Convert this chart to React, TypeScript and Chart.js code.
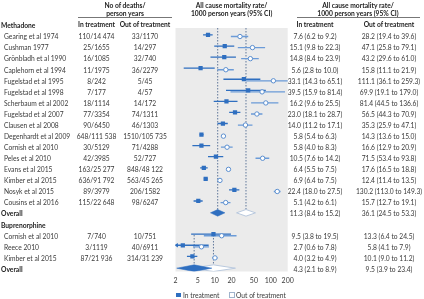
import React, { useEffect, useRef } from "react";
import { Chart, registerables } from "chart.js";
Chart.register(...registerables);

// ---------- data ----------
const methadoneStudies = [
  "Gearing et al 1974", "Cushman 1977", "Grönbladh et al 1990", "Caplehorn et al 1994",
  "Fugelstad et al 1995", "Fugelstad et al 1998", "Scherbaum et al 2002", "Fugelstad et al 2007",
  "Clausen et al 2008", "Degenhardt et al 2009", "Cornish et al 2010", "Peles et al 2010",
  "Evans et al 2015", "Kimber et al 2015", "Nosyk et al 2015", "Cousins et al 2016",
];
const methadoneInDeaths = [
  "110/14 474", "25/1655", "16/1085", "11/1975", "8/242", "7/177", "18/1114", "77/3354",
  "90/6450", "648/111 538", "30/5129", "42/3985", "163/25 277", "636/91 792", "89/3979", "115/22 648",
];
const methadoneOutDeaths = [
  "33/1170", "14/297", "32/740", "36/2279", "5/45", "4/57", "14/172", "74/1311",
  "46/1303", "1510/105 735", "71/4288", "52/727", "848/48 122", "563/45 265", "206/1582", "98/6247",
];
const methadoneInRate = [7.6, 15.1, 14.8, 5.6, 33.1, 39.5, 16.2, 23.0, 14.0, 5.8, 5.8, 10.5, 6.4, 6.9, 22.4, 5.1];
const methadoneInLow = [6.2, 9.8, 8.4, 2.8, 14.3, 15.9, 9.6, 18.1, 11.2, 5.4, 4.0, 7.6, 5.5, 6.4, 18.0, 4.2];
const methadoneInHigh = [9.2, 22.3, 23.9, 10.0, 65.1, 81.4, 25.5, 28.7, 17.1, 6.3, 8.3, 14.2, 7.5, 7.5, 27.5, 6.1];
const methadoneOutRate = [28.2, 47.1, 43.2, 15.8, 111.1, 69.9, 81.4, 56.5, 35.3, 14.3, 16.6, 71.5, 17.6, 12.4, 130.2, 15.7];
const methadoneOutLow = [19.4, 25.8, 29.6, 11.1, 36.1, 19.1, 44.5, 44.3, 25.9, 13.6, 12.9, 53.4, 16.5, 11.4, 113.0, 12.7];
const methadoneOutHigh = [39.6, 79.1, 61.0, 21.9, 259.3, 179.0, 136.6, 70.9, 47.1, 15.0, 20.9, 93.8, 18.8, 13.5, 149.3, 19.1];
const methadoneOverallIn = [11.3, 8.4, 15.2];
const methadoneOverallOut = [36.1, 24.5, 53.3];

const buprenorphineStudies = ["Cornish et al 2010", "Reece 2010", "Kimber et al 2015"];
const buprenorphineInDeaths = ["7/740", "3/1119", "87/21 936"];
const buprenorphineOutDeaths = ["10/751", "40/6911", "314/31 239"];
const buprenorphineInRate = [9.5, 2.7, 4.0];
const buprenorphineInLow = [3.8, 0.6, 3.2];
const buprenorphineInHigh = [19.5, 7.8, 4.9];
const buprenorphineOutRate = [13.3, 5.8, 10.1];
const buprenorphineOutLow = [6.4, 4.1, 9.0];
const buprenorphineOutHigh = [24.5, 7.9, 11.2];
const buprenorphineOverallIn = [4.3, 2.1, 8.9];
const buprenorphineOverallOut = [9.5, 3.9, 23.4];

const xTicks = [2, 5, 10, 20, 50, 100, 200];

// ---------- layout ----------
const W = 424;
const H = 299;
const X_MIN = 2;
const X_MAX = 200;
const Y_MIN = 0.3;
const Y_MAX = 22.3;
const AREA_LEFT = 175.5;
const AREA_RIGHT = 287.7;
const AREA_TOP = 28;
const AREA_BOTTOM = 271.5;
const rowPx = (AREA_BOTTOM - AREA_TOP) / (Y_MAX - Y_MIN);
const rowY = (i: number) => AREA_TOP + (i - Y_MIN) * rowPx;

const FONT = "Lato, 'Open Sans', sans-serif";
const FS = 6.7;
const TEXT = "#3a3a3a";
const BLUE = "#2f6fc0";
const BLUE_LIGHT = "#6b9bd8";
const OPEN_BORDER = "#5b8fd0";

type Row = {
  kind: "group" | "study" | "overall";
  label: string;
  group: number;
  inD?: string;
  outD?: string;
  inR?: number; inL?: number; inH?: number;
  outR?: number; outL?: number; outH?: number;
};

function buildRows(): Row[] {
  const rows: Row[] = [];
  const add = (
    name: string, g: number, studies: string[], inD: string[], outD: string[],
    inR: number[], inL: number[], inH: number[], outR: number[], outL: number[], outH: number[],
    ovIn: number[], ovOut: number[]
  ) => {
    rows.push({ kind: "group", label: name, group: g });
    studies.forEach((s, k) =>
      rows.push({
        kind: "study", label: s, group: g, inD: inD[k], outD: outD[k],
        inR: inR[k], inL: inL[k], inH: inH[k], outR: outR[k], outL: outL[k], outH: outH[k],
      })
    );
    rows.push({
      kind: "overall", label: "Overall", group: g,
      inR: ovIn[0], inL: ovIn[1], inH: ovIn[2], outR: ovOut[0], outL: ovOut[1], outH: ovOut[2],
    });
  };
  add("Methadone", 0, methadoneStudies, methadoneInDeaths, methadoneOutDeaths,
    methadoneInRate, methadoneInLow, methadoneInHigh, methadoneOutRate, methadoneOutLow, methadoneOutHigh,
    methadoneOverallIn, methadoneOverallOut);
  add("Buprenorphine", 1, buprenorphineStudies, buprenorphineInDeaths, buprenorphineOutDeaths,
    buprenorphineInRate, buprenorphineInLow, buprenorphineInHigh, buprenorphineOutRate, buprenorphineOutLow, buprenorphineOutHigh,
    buprenorphineOverallIn, buprenorphineOverallOut);
  return rows;
}

const rows = buildRows();
const fmt = (v: number) => v.toFixed(1);
const ci = (r: number, l: number, h: number) => `${fmt(r)} (${fmt(l)} to ${fmt(h)})`;

function T(props: { x: number; y: number; align?: "left" | "center"; bold?: boolean; children: React.ReactNode; size?: number }) {
  const { x, y, align = "left", bold, children, size } = props;
  return (
    <div
      style={{
        position: "absolute",
        left: x,
        top: y,
        transform: align === "center" ? "translate(-50%, -50%)" : "translate(0, -50%)",
        fontFamily: FONT,
        fontSize: size ?? FS,
        fontWeight: bold ? 700 : 400,
        color: bold ? "#222" : TEXT,
        whiteSpace: "nowrap",
        lineHeight: 1,
      }}
    >
      {children}
    </div>
  );
}

const bgPlugin = {
  id: "plotBg",
  beforeDraw(chart: any) {
    const { ctx, chartArea: a } = chart;
    ctx.save();
    ctx.fillStyle = "#ebebeb";
    ctx.fillRect(a.left, a.top, a.right - a.left, a.bottom - a.top);
    ctx.restore();
  },
};

export default function App() {
  const ref = useRef<HTMLCanvasElement | null>(null);

  useEffect(() => {
    document.body.style.margin = "0";
    const canvas = ref.current;
    if (!canvas) return;
    const dy = 0.07;
    const inCI: any[] = [];
    const outCI: any[] = [];
    const inPts: any[] = [];
    const outPts: any[] = [];
    const arrows: any[] = [];
    const refLines: any[] = [];
    const diamonds: any[] = [];
    let groupStart = 0;
    rows.forEach((r, i) => {
      if (r.kind === "group") groupStart = i;
      if (r.kind === "study") {
        inCI.push({ x: r.inL, y: i - dy }, { x: r.inH, y: i - dy }, { x: r.inH, y: null });
        outCI.push({ x: r.outL, y: i + dy }, { x: r.outH, y: i + dy }, { x: r.outH, y: null });
        inPts.push({ x: r.inR, y: i - dy });
        outPts.push({ x: r.outR, y: i + dy });
        if ((r.inL as number) < X_MIN) arrows.push({ x: X_MIN * 1.05, y: i - dy });
        if ((r.outL as number) < X_MIN) arrows.push({ x: X_MIN * 1.05, y: i + dy });
      }
      if (r.kind === "overall") {
        const top = r.group === 0 ? Y_MIN : groupStart + 1;
        refLines.push({ x: r.inR, y: top }, { x: r.inR, y: i }, { x: r.inR, y: null });
        refLines.push({ x: r.outR, y: top }, { x: r.outR, y: i }, { x: r.outR, y: null });
        const h = 0.3;
        const mk = (c: number, l: number, hh: number) => [
          { x: l, y: i }, { x: c, y: i - h }, { x: hh, y: i }, { x: c, y: i + h }, { x: l, y: i },
        ];
        diamonds.push({
          type: "line", data: mk(r.outR!, r.outL!, r.outH!), fill: "shape",
          backgroundColor: "#ffffff", borderColor: "#b9c9de", borderWidth: 1,
          pointRadius: 0, tension: 0, order: 4,
        });
        diamonds.push({
          type: "line", data: mk(r.inR!, r.inL!, r.inH!), fill: "shape",
          backgroundColor: BLUE, borderColor: BLUE, borderWidth: 0.5,
          pointRadius: 0, tension: 0, order: 3,
        });
      }
    });

    const chart = new Chart(canvas, {
      type: "line",
      data: {
        datasets: [
          {
            data: refLines, borderColor: "#60789a", borderWidth: 1, borderDash: [1.5, 1.5],
            pointRadius: 0, fill: false, order: 10, spanGaps: false,
          },
          {
            data: outCI, borderColor: BLUE_LIGHT, borderWidth: 1.3, pointRadius: 0,
            fill: false, order: 9, spanGaps: false,
          },
          {
            data: inCI, borderColor: BLUE, borderWidth: 1.3, pointRadius: 0,
            fill: false, order: 8, spanGaps: false,
          },
          ...diamonds,
          {
            data: outPts, showLine: false, pointStyle: "circle", pointRadius: 2.2,
            pointBackgroundColor: "#ffffff", pointBorderColor: OPEN_BORDER, pointBorderWidth: 1,
            order: 2,
          },
          {
            data: inPts, showLine: false, pointStyle: "rect", pointRadius: 3,
            pointBackgroundColor: BLUE, pointBorderColor: BLUE, pointBorderWidth: 0,
            order: 1,
          },
          {
            data: arrows, showLine: false, pointStyle: "triangle", rotation: -90, pointRadius: 2.5,
            pointBackgroundColor: BLUE, pointBorderColor: BLUE, pointBorderWidth: 0,
            order: 0,
          },
        ] as any,
      },
      options: {
        responsive: false,
        maintainAspectRatio: false,
        animation: false,
        layout: {
          padding: { left: AREA_LEFT, right: W - AREA_RIGHT, top: AREA_TOP, bottom: 0 },
        },
        plugins: {
          legend: { display: false },
          tooltip: { enabled: false },
        },
        scales: {
          x: {
            type: "logarithmic",
            min: X_MIN,
            max: X_MAX,
            grid: { display: false, drawTicks: false },
            border: { display: false },
            afterBuildTicks: (s: any) => {
              s.ticks = xTicks.map((v) => ({ value: v }));
            },
            afterFit: (s: any) => {
              s.height = H - AREA_BOTTOM;
            },
            ticks: {
              autoSkip: false,
              maxRotation: 0,
              padding: 5,
              color: TEXT,
              font: { family: FONT, size: 7 },
              callback: (v: any) => String(v),
            },
          },
          y: {
            type: "linear",
            reverse: true,
            min: Y_MIN,
            max: Y_MAX,
            display: false,
          },
        },
      } as any,
      plugins: [bgPlugin],
    });
    return () => chart.destroy();
  }, []);

  const cIn = 96.5;
  const cOut = 145;
  const rIn = 315;
  const rOut = 389;
  const rHead = 358;
  const mHead = (AREA_LEFT + AREA_RIGHT) / 2;

  return (
    <div style={{ position: "absolute", left: 0, top: 0, width: W, height: H, background: "#fff", overflow: "hidden" }}>
      <canvas ref={ref} width={W} height={H} style={{ position: "absolute", left: 0, top: 0, width: W, height: H }} />
      {/* headers */}
      <T x={(78 + 172) / 2} y={5} align="center" bold>No of deaths/</T>
      <T x={(78 + 172) / 2} y={12.5} align="center" bold>person years</T>
      <div style={{ position: "absolute", left: 78, top: 17, width: 94, borderTop: "1px solid #777" }} />
      <T x={cIn} y={24} align="center" bold>In treatment</T>
      <T x={cOut} y={24} align="center" bold>Out of treatment</T>

      <T x={mHead} y={5} align="center" bold>All cause mortality rate/</T>
      <T x={mHead} y={12.5} align="center" bold>1000 person years (95% CI)</T>

      <T x={rHead} y={5} align="center" bold>All cause mortality rate/</T>
      <T x={rHead} y={12.5} align="center" bold>1000 person years (95% CI)</T>
      <div style={{ position: "absolute", left: 297, top: 17, width: 123, borderTop: "1px solid #777" }} />
      <T x={rIn} y={24} align="center" bold>In treatment</T>
      <T x={rOut} y={24} align="center" bold>Out of treatment</T>

      {rows.map((r, i) => {
        const y = rowY(i) + 0.6;
        if (r.kind === "group") {
          return <T key={i} x={1} y={y} bold>{r.label}</T>;
        }
        if (r.kind === "overall") {
          return (
            <React.Fragment key={i}>
              <T x={1} y={y} bold>{r.label}</T>
              <T x={rIn} y={y} align="center">{ci(r.inR!, r.inL!, r.inH!)}</T>
              <T x={rOut} y={y} align="center">{ci(r.outR!, r.outL!, r.outH!)}</T>
            </React.Fragment>
          );
        }
        return (
          <React.Fragment key={i}>
            <T x={4} y={y}>{r.label}</T>
            <T x={cIn} y={y} align="center">{r.inD}</T>
            <T x={cOut} y={y} align="center">{r.outD}</T>
            <T x={rIn} y={y} align="center">{ci(r.inR!, r.inL!, r.inH!)}</T>
            <T x={rOut} y={y} align="center">{ci(r.outR!, r.outL!, r.outH!)}</T>
          </React.Fragment>
        );
      })}

      {/* legend */}
      <div style={{ position: "absolute", left: 176, top: 292.5, width: 4.5, height: 4.5, background: BLUE }} />
      <T x={183} y={295} >In treatment</T>
      <div style={{ position: "absolute", left: 228.5, top: 292, width: 4, height: 4, border: "0.8px solid #9fb3cc", background: "#fff" }} />
      <T x={236} y={295}>Out of treatment</T>
    </div>
  );
}
